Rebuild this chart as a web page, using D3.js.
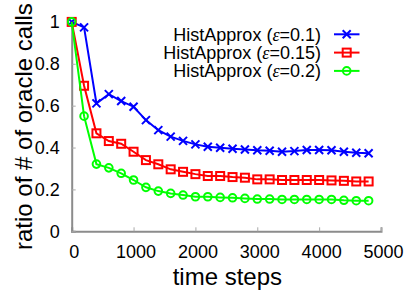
<!DOCTYPE html>
<html><head><meta charset="utf-8">
<script src="https://cdn.jsdelivr.net/npm/d3@7"></script>
<style>body{margin:0;background:#fff}svg{display:block}text{font-family:"Liberation Sans",Arial,sans-serif}</style>
</head><body><svg id="c" width="415" height="291"></svg>
<script>
const steps = [0,200,400,600,800,1000,1200,1400,1600,1800,2000,2200,2400,2600,2800,3000,3200,3400,3600,3800,4000,4200,4400,4600,4800];
const eps01 = [1,0.974,0.611,0.655,0.622,0.595,0.531,0.483,0.452,0.432,0.415,0.404,0.399,0.394,0.391,0.387,0.385,0.380,0.383,0.388,0.388,0.387,0.380,0.375,0.373];
const eps015 = [1,0.695,0.468,0.431,0.418,0.38,0.34,0.32,0.296,0.284,0.273,0.264,0.264,0.259,0.256,0.248,0.248,0.245,0.245,0.245,0.245,0.243,0.241,0.238,0.238];
const eps02 = [1,0.55,0.321,0.303,0.277,0.245,0.21,0.192,0.181,0.173,0.165,0.165,0.162,0.160,0.157,0.154,0.154,0.152,0.152,0.152,0.152,0.152,0.148,0.146,0.146];
const seriesNames = ["0.1","0.15","0.2"];
const xTicks = [0,1000,2000,3000,4000,5000];
const yTicks = [0,0.2,0.4,0.6,0.8,1];
const yTickLabels = ["0","0.2","0.4","0.6","0.8","1"];

const svg = d3.select("#c");
const x = d3.scaleLinear().domain([0,5000]).range([71.7,381]);
const y = d3.scaleLinear().domain([0,1]).range([231.3,21.9]);

const series = [
  {name:seriesNames[0], vals:eps01, color:"#0000ff", marker:"cross"},
  {name:seriesNames[1], vals:eps015, color:"#ff0000", marker:"square"},
  {name:seriesNames[2], vals:eps02, color:"#00ff00", marker:"circle"}
];

// axes
const axisColor = "#8c8c8c";
const gx = svg.append("g").attr("transform",`translate(0,${y(0)})`)
  .call(d3.axisBottom(x).tickValues(xTicks).tickSize(-4).tickFormat(d3.format("d")).tickPadding(14));
const gy = svg.append("g").attr("transform",`translate(${x(0)},0)`)
  .call(d3.axisLeft(y).tickValues(yTicks).tickSize(-4).tickFormat((d,i)=>yTickLabels[i]).tickPadding(12));
[gx,gy].forEach(g=>{
  g.select(".domain").attr("stroke",axisColor).attr("stroke-width",2);
  g.selectAll(".tick line").attr("stroke","#aaaaaa").attr("stroke-width",1);
  g.selectAll(".tick text").attr("fill","#000").attr("font-size",18).attr("font-family","Liberation Sans, Arial, sans-serif");
});
gx.selectAll(".tick text").attr("dx",2);

// axis titles
svg.append("text").attr("x",(x(0)+x(5000))/2+1).attr("y",285).attr("text-anchor","middle")
  .attr("font-size",24).text("time steps");
svg.append("text").attr("transform",`translate(32,${(y(0)+y(1))/2}) rotate(-90)`).attr("text-anchor","middle")
  .attr("font-size",24).text("ratio of # of oracle calls");

function drawMarker(g, type, cx, cy, color){
  if(type==="cross"){
    const s=4;
    g.append("path").attr("d",`M${cx-s},${cy-s}L${cx+s},${cy+s}M${cx-s},${cy+s}L${cx+s},${cy-s}`)
      .attr("stroke",color).attr("stroke-width",2).attr("fill","none");
  } else if(type==="square"){
    const s=4;
    g.append("rect").attr("x",cx-s).attr("y",cy-s).attr("width",2*s).attr("height",2*s)
      .attr("stroke",color).attr("stroke-width",2).attr("fill","none");
  } else {
    g.append("circle").attr("cx",cx).attr("cy",cy).attr("r",3.8)
      .attr("stroke",color).attr("stroke-width",2).attr("fill","none");
  }
}

const line = d3.line().x((d,i)=>x(steps[i])).y(d=>y(d));
series.forEach(s=>{
  const g = svg.append("g");
  g.append("path").datum(s.vals).attr("d",line).attr("fill","none").attr("stroke",s.color).attr("stroke-width",2);
  s.vals.forEach((v,i)=>drawMarker(g,s.marker,x(steps[i]),y(v),s.color));
});

// legend
const legY = [34.3,52.6,70.9];
series.forEach((s,i)=>{
  const t = svg.append("text").attr("x",321).attr("y",legY[i]).attr("dy","0.35em").attr("text-anchor","end").attr("font-size",18);
  t.append("tspan").text("HistApprox (");
  t.append("tspan").attr("font-style","italic").attr("font-family","Liberation Serif, serif").text("ε");
  t.append("tspan").text("="+s.name+")");
  const g = svg.append("g");
  g.append("line").attr("x1",334).attr("x2",359.5).attr("y1",legY[i]).attr("y2",legY[i]).attr("stroke",s.color).attr("stroke-width",2);
  drawMarker(g,s.marker,346.7,legY[i],s.color);
});
</script></body></html>
